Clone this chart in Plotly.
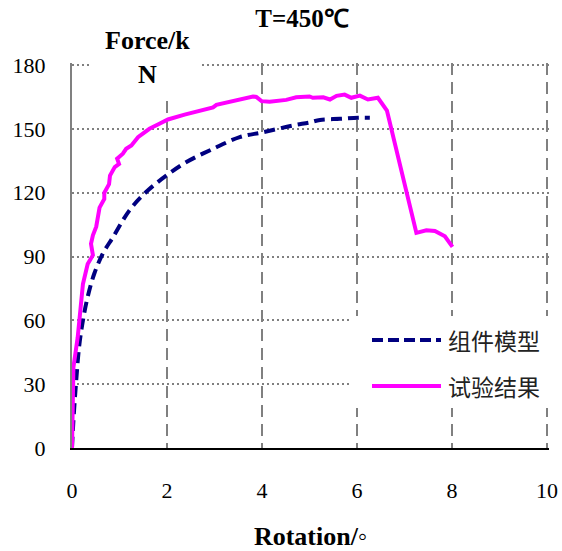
import plotly.graph_objects as go

# ---- data ----
test_rotation = [0, 0.02, 0.03, 0.12, 0.19, 0.23, 0.33, 0.44, 0.40, 0.44, 0.51, 0.58, 0.68, 0.68,
                 0.78, 0.80, 0.90, 0.99, 0.95, 1.07, 1.14, 1.25, 1.39, 1.63, 1.84, 2.02, 2.37,
                 2.69, 2.97, 3.04, 3.39, 3.81, 3.88, 3.99, 4.16, 4.51, 4.72, 5.00, 5.07, 5.29,
                 5.43, 5.57, 5.74, 5.88, 6.06, 6.23, 6.44, 6.63, 7.25, 7.46, 7.64, 7.85, 8.01]
test_force = [0, 30, 38, 52, 66, 77, 86.5, 90.6, 96, 100, 104, 113, 117, 120,
              124, 128, 132, 133.5, 136, 138.3, 140.6, 142.2, 146.1, 150, 152.4, 154.4, 156.7,
              158.6, 160.1, 161.3, 163, 165.2, 165, 163, 162.7, 163.6, 164.8, 165.2, 164.6, 164.8,
              163.8, 165.5, 166.1, 164.6, 165.6, 163.8, 164.6, 158.6, 101.1, 102.3, 102, 99.5, 94.5]

model_rotation = [0, 0.03, 0.09, 0.15, 0.23, 0.33, 0.47, 0.65, 0.86, 1.21, 1.56, 1.99, 2.41,
                  2.97, 3.53, 4.02, 4.65, 5.00, 5.22, 5.64, 6.02, 6.27]
model_force = [0, 13, 32, 47.6, 60, 71, 82, 91.4, 99, 111.7, 120.3, 128.1, 134.4,
               140.6, 146.1, 148.4, 151.6, 153, 154.2, 154.7, 155.2, 155.2]

series_names = ["组件模型", "试验结果"]
x_ticks = [0, 2, 4, 6, 8, 10]
y_ticks = [0, 30, 60, 90, 120, 150, 180]

W, H = 562, 551
L, R, T, B = 72, 13, 63, 103
PW, PH = W - L - R, H - T - B
X_MAX = 10 * PW / 475.0      # plot extends 2px beyond x=10
Y_MAX = 180 * PH / 383.0     # plot extends 2px beyond y=180

def xp(px):
    return (px - L) / PW

def yp(py):
    return (H - B - py) / PH

SERIF = "Liberation Serif, Times New Roman, serif"
CJK = "Noto Sans CJK SC, sans-serif"
NAVY = "#000080"
PINK = "#FF00FF"
GRID = "#808080"

fig = go.Figure()
fig.add_trace(go.Scatter(x=model_rotation, y=model_force, mode="lines", name=series_names[0],
                         line=dict(color=NAVY, width=4, dash="11px,6px", shape="spline"),
                         showlegend=False))
fig.add_trace(go.Scatter(x=test_rotation, y=test_force, mode="lines", name=series_names[1],
                         line=dict(color=PINK, width=4), showlegend=False))

shapes = []
annotations = []
# white patch behind the y-axis title
shapes.append(dict(type="rect", xref="paper", yref="paper", x0=xp(90), x1=xp(202),
                   y0=yp(100), y1=yp(22), fillcolor="white", line=dict(width=0), layer="above"))
annotations.append(dict(text="<b>Force/k</b><br><b>N</b>", xref="paper", yref="paper",
                        x=xp(147), y=yp(57), xanchor="center", yanchor="middle", showarrow=False,
                        font=dict(family=SERIF, size=26, color="black"), align="center"))
# legend box
shapes.append(dict(type="rect", xref="paper", yref="paper", x0=xp(352), x1=xp(550),
                   y0=yp(408), y1=yp(316), fillcolor="white", line=dict(width=0), layer="above"))
leg_y = [340, 386]
leg_styles = [dict(color=NAVY, width=4, dash="11px,5px"), dict(color=PINK, width=4)]
for name, ly, st in zip(series_names, leg_y, leg_styles):
    shapes.append(dict(type="line", xref="paper", yref="paper", x0=xp(372), x1=xp(441),
                       y0=yp(ly), y1=yp(ly), line=st, layer="above"))
    annotations.append(dict(text=name, xref="paper", yref="paper", x=xp(446), y=yp(ly),
                            xanchor="left", yanchor="middle", showarrow=False,
                            font=dict(family=CJK, size=23, color="#222222")))

fig.update_layout(
    width=W, height=H,
    margin=dict(l=L, r=R, t=T, b=B, pad=0, autoexpand=False),
    paper_bgcolor="white", plot_bgcolor="white",
    title=dict(text="<b>T=450℃</b>", x=302 / W, y=1 - 18 / H, xanchor="center", yanchor="middle",
               xref="container", yref="container",
               font=dict(family=SERIF, size=25, color="black")),
    shapes=shapes, annotations=annotations,
    xaxis=dict(range=[0, X_MAX], tickvals=x_ticks, ticktext=[str(v) for v in x_ticks],
               automargin=False,
               showgrid=True, gridcolor=GRID, gridwidth=2, griddash="12px,7px",
               showline=True, linecolor="black", linewidth=1.5, zeroline=False,
               ticks="", ticklabelstandoff=22,
               tickfont=dict(family=SERIF, size=22, color="black"),
               title=dict(text="<b>Rotation/◦</b>", standoff=29,
                          font=dict(family=SERIF, size=26, color="black"))),
    yaxis=dict(range=[0, Y_MAX], tickvals=y_ticks, ticktext=[str(v) for v in y_ticks],
               automargin=False,
               showgrid=True, gridcolor=GRID, gridwidth=2, griddash="2px,3px",
               showline=True, linecolor=GRID, linewidth=2, zeroline=False,
               ticks="", ticklabelstandoff=20,
               tickfont=dict(family=SERIF, size=22, color="black")),
)

fig.write_html("out.html")
